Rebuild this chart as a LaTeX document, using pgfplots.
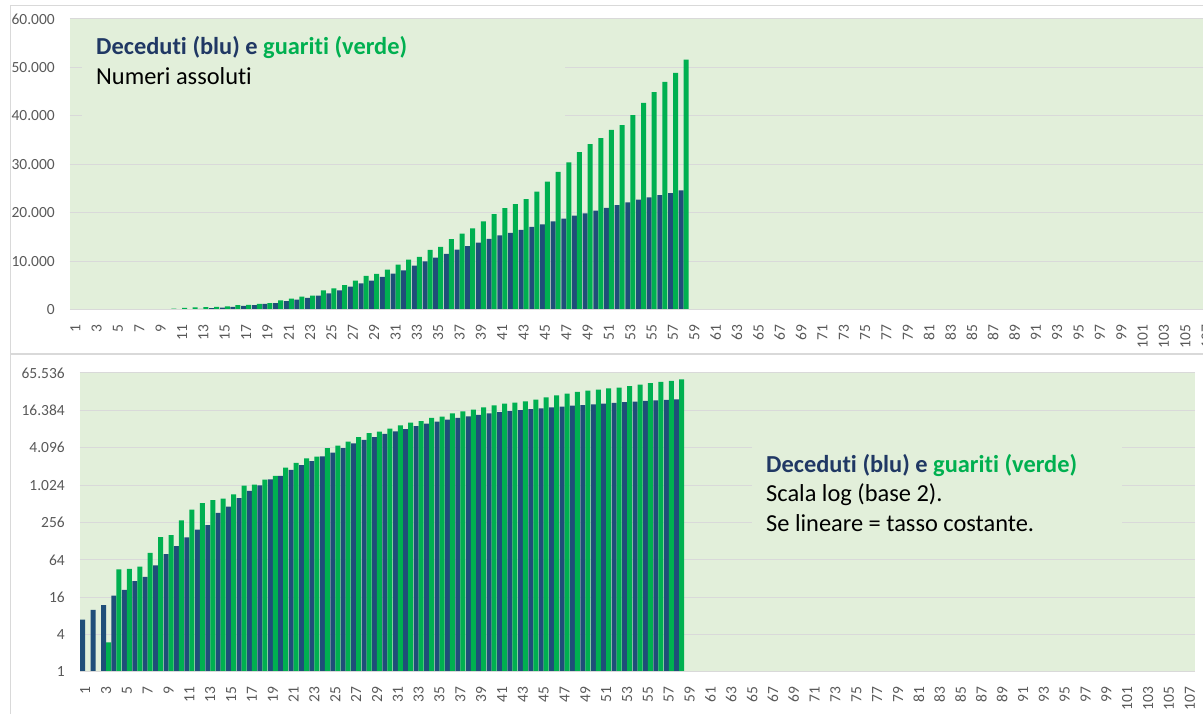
\documentclass[border=0pt]{standalone}
\usepackage{fontspec}
\setmainfont{Carlito}[Ligatures={NoCommon}]
\usepackage{pgfplots}
\usepackage{pgfplotstable}
\pgfplotsset{compat=1.18}

\definecolor{bgc}{HTML}{E2EFDA}
\definecolor{gridc}{HTML}{D9D9D9}
\definecolor{blu}{HTML}{1F4E79}
\definecolor{verde}{HTML}{00B050}
\definecolor{titblu}{HTML}{203864}
\definecolor{tickc}{HTML}{595959}

% giorno, deceduti, guariti
\pgfplotstableread{
day dec gua
1 7 1
2 10 1
3 12 3
4 17 45
5 21 46
6 29 50
7 34 83
8 52 149
9 79 160
10 107 276
11 148 414
12 197 523
13 233 589
14 366 622
15 463 724
16 631 1004
17 827 1045
18 1016 1258
19 1266 1439
20 1441 1966
21 1809 2335
22 2158 2749
23 2503 2941
24 2978 4025
25 3405 4440
26 4032 5129
27 4825 6072
28 5476 7024
29 6077 7432
30 6820 8326
31 7503 9362
32 8165 10361
33 9134 10950
34 10023 12384
35 10779 13030
36 11591 14620
37 12428 15729
38 13155 16847
39 13915 18278
40 14681 19758
41 15362 20996
42 15887 21815
43 16523 22837
44 17127 24392
45 17669 26491
46 18279 28470
47 18849 30455
48 19468 32534
49 19899 34211
50 20465 35435
51 21067 37130
52 21645 38092
53 22170 40164
54 22745 42727
55 23227 44927
56 23660 47055
57 24114 48877
58 24648 51600
}\dati

\pgfplotsset{
  panel/.style={
    scale only axis, anchor=south west,
    xmin=0.5, xmax=107.5,
    ybar=0pt, bar width=5pt,
    axis background/.style={fill=bgc},
    axis line style={draw=none},
    tick style={draw=none},
    scaled y ticks=false,
    ymajorgrids, grid style={gridc, line width=1pt},
    xtick={1,3,...,107},
    /pgf/number format/assume math mode=true,
    xticklabel style={rotate=90, anchor=east, inner sep=0pt,
      font=\fontsize{15.5}{18}\selectfont, text=tickc},
    xticklabel shift=10pt,
    yticklabel style={anchor=east, inner sep=0pt,
      font=\fontsize{15.5}{18}\selectfont, text=tickc},
    yticklabel shift=15pt,
  },
}

\begin{document}
\begin{tikzpicture}
\path[use as bounding box, clip] (0pt,0pt) rectangle (1203pt,714pt);

% cornici dei due grafici
\draw[gridc, line width=1pt] (10pt,360pt) rectangle (1230pt,708pt);
\draw[gridc, line width=1pt] (10pt,-20pt) rectangle (1230pt,359pt);

% grafico lineare
\begin{axis}[panel, at={(70pt,404pt)}, width=1142pt, height=291pt,
  ymin=0, ymax=60000,
  ytick={0,10000,20000,30000,40000,50000,60000},
  yticklabels={0,10.000,20.000,30.000,40.000,50.000,60.000}]
  \fill[bgc] (axis cs:1.6,34000) rectangle (axis cs:46.9,58800);
  \addplot[fill=blu, draw=none] table[x=day, y=dec] {\dati};
  \addplot[fill=verde, draw=none] table[x=day, y=gua] {\dati};
  \draw[gridc, line width=1pt] (rel axis cs:0,0) -- (rel axis cs:1,0);
\end{axis}

% grafico logaritmico
\begin{axis}[panel, at={(80pt,42pt)}, width=1115pt, height=299pt,
  ymode=log, ymin=1, ymax=65536,
  ytick={1,4,16,64,256,1024,4096,16384,65536},
  yticklabels={1,4,16,64,256,1.024,4.096,16.384,65.536}]
  \fill[bgc] (axis cs:65,111) rectangle (axis cs:100.5,9400);
  \addplot[fill=blu, draw=none] table[x=day, y=dec] {\dati};
  \addplot[fill=verde, draw=none] table[x=day, y=gua] {\dati};
  \draw[gridc, line width=1pt] (rel axis cs:0,0) -- (rel axis cs:1,0);
\end{axis}

% testi
\node[anchor=base west, inner sep=0pt, font=\fontsize{24.4}{28}\selectfont\bfseries]
  at (96pt,659pt) {\textcolor{titblu}{Deceduti (blu) e} \textcolor{verde}{guariti (verde)}};
\node[anchor=base west, inner sep=0pt, font=\fontsize{24.4}{28}\selectfont]
  at (96pt,629pt) {Numeri assoluti};

\node[anchor=base west, inner sep=0pt, font=\fontsize{24.4}{28}\selectfont\bfseries]
  at (766pt,241pt) {\textcolor{titblu}{Deceduti (blu) e} \textcolor{verde}{guariti (verde)}};
\node[anchor=base west, inner sep=0pt, font=\fontsize{24.4}{28}\selectfont]
  at (766pt,212pt) {Scala log (base 2).};
\node[anchor=base west, inner sep=0pt, font=\fontsize{24.4}{28}\selectfont]
  at (766pt,182pt) {Se lineare = tasso costante.};
\end{tikzpicture}
\end{document}
